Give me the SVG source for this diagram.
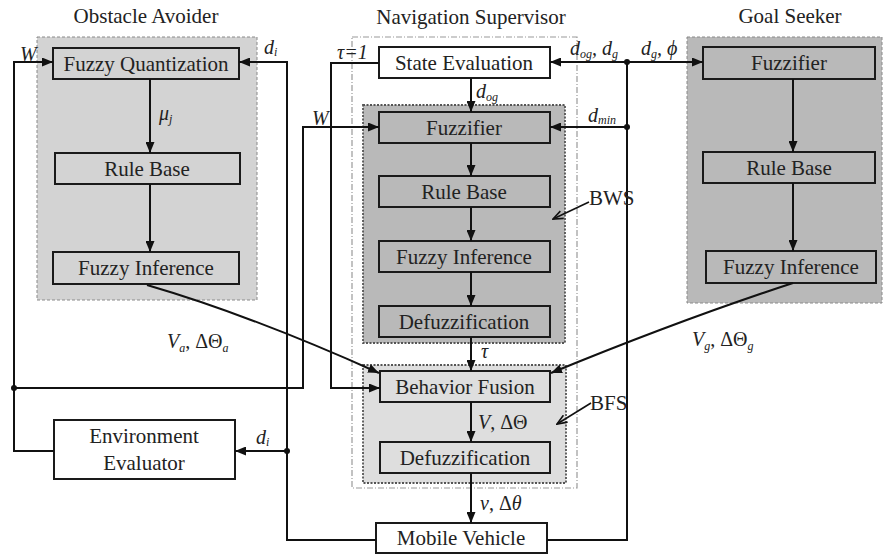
<svg xmlns="http://www.w3.org/2000/svg" width="885" height="556" viewBox="0 0 885 556">
  <defs>
    <marker id="ah" viewBox="0 0 11 9" refX="11" refY="4.5" markerWidth="11" markerHeight="9" markerUnits="userSpaceOnUse" orient="auto">
      <path d="M0,0 L11,4.5 L0,9 z" fill="#111"/>
    </marker>
    <marker id="ptr" viewBox="0 0 12 10" refX="11" refY="5" markerWidth="12" markerHeight="10" markerUnits="userSpaceOnUse" orient="auto">
      <path d="M1,1 L11,5 L1,9" fill="none" stroke="#111" stroke-width="1.6"/>
    </marker>
    <style>
      .box { stroke: #1a1a1a; stroke-width: 2; }
      .wht { fill: #ffffff; }
      .g1 { fill: #d3d3d3; }
      .g2 { fill: #b9b9b9; }
      .g3 { fill: #dedede; }
      .panel { stroke: #8a8a8a; stroke-width: 1; stroke-dasharray: 3 2; }
      .outer { fill: none; stroke: #9a9a9a; stroke-width: 1.2; stroke-dasharray: 6 2 1 2; }
      .inner { stroke: #555; stroke-width: 1.8; stroke-dasharray: 2 1.5; }
      .w { fill: none; stroke: #111; stroke-width: 2; }
      .a { marker-end: url(#ah); }
      .p { stroke-width: 1.6; marker-end: url(#ptr); }
      .dot { fill: #111; }
    </style>
  </defs>

  <!-- section titles -->
  <g id="titles" text-anchor="middle">
    <text style="font-family:'Liberation Serif',serif;font-size:21px;fill:#222" x="146" y="23">Obstacle Avoider</text>
    <text style="font-family:'Liberation Serif',serif;font-size:21px;fill:#222" x="471" y="24">Navigation Supervisor</text>
    <text style="font-family:'Liberation Serif',serif;font-size:21px;fill:#222" x="790" y="23">Goal Seeker</text>
  </g>

  <!-- background panels -->
  <rect id="obstacle-avoider-panel" class="g1 panel" x="37" y="37" width="220" height="263"/>
  <rect id="goal-seeker-panel" class="g2 panel" x="687" y="37" width="195" height="266"/>
  <rect id="navigation-supervisor-panel" class="outer" x="352" y="37" width="225" height="451"/>
  <rect id="bws-panel" class="g2 inner" x="363" y="105" width="202" height="238"/>
  <rect id="bfs-panel" class="g3 inner" x="363" y="365" width="203" height="118"/>

  <!-- Obstacle Avoider nodes -->
  <g id="oa-fuzzy-quantization" text-anchor="middle">
    <rect class="g1 box" x="53" y="48" width="186" height="31"/>
    <text style="font-family:'Liberation Serif',serif;font-size:21px;fill:#222" x="146" y="71">Fuzzy Quantization</text>
  </g>
  <g id="oa-rule-base" text-anchor="middle">
    <rect class="g1 box" x="55" y="153" width="185" height="31"/>
    <text style="font-family:'Liberation Serif',serif;font-size:21px;fill:#222" x="147" y="176">Rule Base</text>
  </g>
  <g id="oa-fuzzy-inference" text-anchor="middle">
    <rect class="g1 box" x="53" y="252" width="186" height="32"/>
    <text style="font-family:'Liberation Serif',serif;font-size:21px;fill:#222" x="146" y="275">Fuzzy Inference</text>
  </g>
  <g id="environment-evaluator" text-anchor="middle">
    <rect class="wht box" x="54" y="420" width="181" height="59"/>
    <text style="font-family:'Liberation Serif',serif;font-size:21px;fill:#222" x="144" y="443">Environment</text>
    <text style="font-family:'Liberation Serif',serif;font-size:21px;fill:#222" x="144" y="470">Evaluator</text>
  </g>

  <!-- Navigation Supervisor nodes -->
  <g id="state-evaluation" text-anchor="middle">
    <rect class="wht box" x="379" y="47" width="171" height="31"/>
    <text style="font-family:'Liberation Serif',serif;font-size:21px;fill:#222" x="464" y="70">State Evaluation</text>
  </g>
  <g id="bws-fuzzifier" text-anchor="middle">
    <rect class="g2 box" x="379" y="112" width="171" height="31"/>
    <text style="font-family:'Liberation Serif',serif;font-size:21px;fill:#222" x="464" y="135">Fuzzifier</text>
  </g>
  <g id="bws-rule-base" text-anchor="middle">
    <rect class="g2 box" x="379" y="176" width="171" height="31"/>
    <text style="font-family:'Liberation Serif',serif;font-size:21px;fill:#222" x="464" y="199">Rule Base</text>
  </g>
  <g id="bws-fuzzy-inference" text-anchor="middle">
    <rect class="g2 box" x="379" y="241" width="171" height="31"/>
    <text style="font-family:'Liberation Serif',serif;font-size:21px;fill:#222" x="464" y="264">Fuzzy Inference</text>
  </g>
  <g id="bws-defuzzification" text-anchor="middle">
    <rect class="g2 box" x="379" y="306" width="171" height="31"/>
    <text style="font-family:'Liberation Serif',serif;font-size:21px;fill:#222" x="464" y="329">Defuzzification</text>
  </g>
  <g id="behavior-fusion" text-anchor="middle">
    <rect class="g3 box" x="380" y="371" width="170" height="31"/>
    <text style="font-family:'Liberation Serif',serif;font-size:21px;fill:#222" x="465" y="394">Behavior Fusion</text>
  </g>
  <g id="bfs-defuzzification" text-anchor="middle">
    <rect class="g3 box" x="380" y="442" width="170" height="31"/>
    <text style="font-family:'Liberation Serif',serif;font-size:21px;fill:#222" x="465" y="465">Defuzzification</text>
  </g>
  <g id="mobile-vehicle" text-anchor="middle">
    <rect class="wht box" x="376" y="523" width="171" height="30"/>
    <text style="font-family:'Liberation Serif',serif;font-size:21px;fill:#222" x="461" y="545">Mobile Vehicle</text>
  </g>

  <!-- Goal Seeker nodes -->
  <g id="gs-fuzzifier" text-anchor="middle">
    <rect class="g2 box" x="703" y="47" width="172" height="32"/>
    <text style="font-family:'Liberation Serif',serif;font-size:21px;fill:#222" x="789" y="70">Fuzzifier</text>
  </g>
  <g id="gs-rule-base" text-anchor="middle">
    <rect class="g2 box" x="703" y="152" width="172" height="31"/>
    <text style="font-family:'Liberation Serif',serif;font-size:21px;fill:#222" x="789" y="175">Rule Base</text>
  </g>
  <g id="gs-fuzzy-inference" text-anchor="middle">
    <rect class="g2 box" x="706" y="251" width="170" height="32"/>
    <text style="font-family:'Liberation Serif',serif;font-size:21px;fill:#222" x="791" y="274">Fuzzy Inference</text>
  </g>

  <!-- connectors -->
  <g id="connectors">
    <!-- weight W fed back from the environment evaluator -->
    <path class="w a" d="M14,388 V62 H53"/>
    <path class="w a" d="M14,388 H303 V127 H379"/>
    <path class="w" d="M54,451 H14 V388"/>
    <!-- obstacle distances d_i -->
    <path class="w a" d="M287,451 V62 H239"/>
    <path class="w a" d="M376,540 H287 V451 H235"/>
    <!-- tau = 1 override -->
    <path class="w a" d="M379,63 H331 V388 H380"/>
    <!-- goal distances from the vehicle -->
    <path class="w" d="M547,540 H627 V62"/>
    <path class="w a" d="M627,62 H550"/>
    <path class="w a" d="M627,62 H703"/>
    <path class="w a" d="M627,127 H550"/>
    <!-- obstacle avoider chain -->
    <path class="w a" d="M150,79 V153"/>
    <path class="w a" d="M150,184 V252"/>
    <!-- supervisor chain -->
    <path class="w a" d="M471,78 V112"/>
    <path class="w a" d="M471,143 V176"/>
    <path class="w a" d="M471,207 V241"/>
    <path class="w a" d="M471,272 V306"/>
    <path class="w a" d="M471,337 V371"/>
    <path class="w a" d="M471,402 V442"/>
    <path class="w a" d="M471,473 V523"/>
    <!-- goal seeker chain -->
    <path class="w a" d="M793,79 V152"/>
    <path class="w a" d="M793,183 V251"/>
    <!-- behaviour outputs into fusion -->
    <path class="w a" d="M147,285 Q250,315 379,373"/>
    <path class="w a" d="M793,283 Q680,320 551,373"/>
    <!-- BWS / BFS pointers -->
    <path class="w p" d="M589,202 L553,219"/>
    <path class="w p" d="M591,403 L557,424"/>
    <!-- junctions -->
    <circle class="dot" cx="14" cy="388" r="3"/>
    <circle class="dot" cx="287" cy="451" r="3"/>
    <circle class="dot" cx="627" cy="62" r="3"/>
    <circle class="dot" cx="627" cy="127" r="3"/>
  </g>

  <!-- signal labels -->
  <g id="labels">
    <text style="font-family:'Liberation Serif',serif;font-size:20px;font-style:italic;fill:#222" x="20" y="61">W</text>
    <text style="font-family:'Liberation Serif',serif;font-size:20px;font-style:italic;fill:#222" x="264" y="54">d<tspan font-size="12" dy="2">i</tspan></text>
    <text style="font-family:'Liberation Serif',serif;font-size:20px;font-style:italic;fill:#222" x="159" y="120">μ<tspan font-size="12" dy="3">j</tspan></text>
    <text style="font-family:'Liberation Serif',serif;font-size:20px;font-style:italic;fill:#222" x="337" y="59">τ=1</text>
    <text style="font-family:'Liberation Serif',serif;font-size:20px;font-style:italic;fill:#222" x="570" y="55">d<tspan font-size="12" dy="3">og</tspan><tspan dy="-3">, d</tspan><tspan font-size="12" dy="3">g</tspan></text>
    <text style="font-family:'Liberation Serif',serif;font-size:20px;font-style:italic;fill:#222" x="641" y="55">d<tspan font-size="12" dy="3">g</tspan><tspan dy="-3">, ϕ</tspan></text>
    <text style="font-family:'Liberation Serif',serif;font-size:20px;font-style:italic;fill:#222" x="476" y="98">d<tspan font-size="12" dy="3">og</tspan></text>
    <text style="font-family:'Liberation Serif',serif;font-size:20px;font-style:italic;fill:#222" x="588" y="122">d<tspan font-size="12" dy="2">min</tspan></text>
    <text style="font-family:'Liberation Serif',serif;font-size:20px;font-style:italic;fill:#222" x="312" y="125">W</text>
    <text style="font-family:'Liberation Serif',serif;font-size:20px;font-style:italic;fill:#222" x="481" y="358">τ</text>
    <text style="font-family:'Liberation Serif',serif;font-size:20px;font-style:italic;fill:#222" x="478" y="429">V<tspan font-style="normal">, ΔΘ</tspan></text>
    <text style="font-family:'Liberation Serif',serif;font-size:20px;font-style:italic;fill:#222" x="480" y="510">v<tspan font-style="normal">, Δ</tspan>θ</text>
    <text style="font-family:'Liberation Serif',serif;font-size:20px;font-style:italic;fill:#222" x="167" y="348">V<tspan font-size="12" dy="4">a</tspan><tspan font-style="normal" dy="-4">, ΔΘ</tspan><tspan font-size="12" dy="4">a</tspan></text>
    <text style="font-family:'Liberation Serif',serif;font-size:20px;font-style:italic;fill:#222" x="692" y="346">V<tspan font-size="12" dy="4">g</tspan><tspan font-style="normal" dy="-4">, ΔΘ</tspan><tspan font-size="12" dy="4">g</tspan></text>
    <text style="font-family:'Liberation Serif',serif;font-size:20px;font-style:italic;fill:#222" x="256" y="444">d<tspan font-size="12" dy="2">i</tspan></text>
    <text style="font-family:'Liberation Serif',serif;font-size:21px;fill:#222" x="589" y="205">BWS</text>
    <text style="font-family:'Liberation Serif',serif;font-size:21px;fill:#222" x="590" y="410">BFS</text>
  </g>
</svg>
